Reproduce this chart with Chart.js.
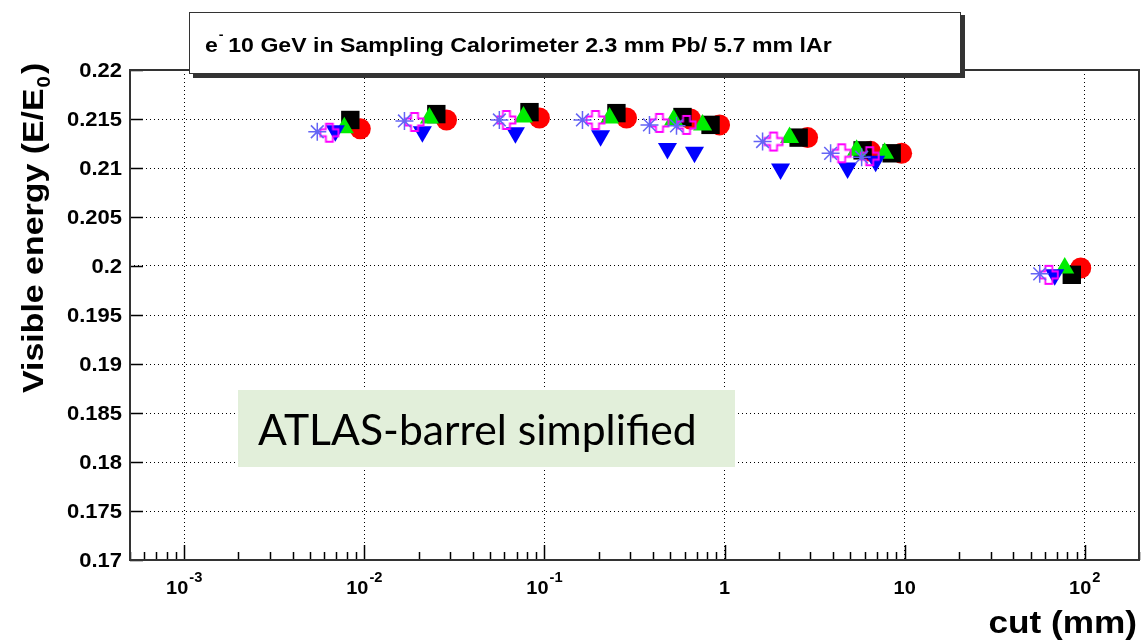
<!DOCTYPE html>
<html>
<head>
<meta charset="utf-8">
<script src="https://cdn.jsdelivr.net/npm/chart.js@4/dist/chart.umd.min.js"></script>
<style>
  html, body { margin: 0; padding: 0; background: #fff; }
  #wrap { width: 1142px; height: 644px; }
</style>
</head>
<body>
<div id="wrap"><canvas id="chartarea" width="1142" height="644"></canvas></div>
<script>
// values: cut (mm) and visible energy E/E0, one pair of arrays per marker set
var cutStar   = [0.00548, 0.0167, 0.0562, 0.1626, 0.383, 0.541, 1.626, 3.88, 5.77, 56.2];
var eStar     = [0.2137, 0.2148, 0.2149, 0.2149, 0.2144, 0.2143, 0.2127, 0.2115, 0.2111, 0.1992];
var cutCross  = [0.0064, 0.019, 0.0615, 0.192, 0.435, 0.615, 1.87, 4.47, 6.39, 63.1];
var eCross    = [0.2136, 0.2147, 0.2149, 0.2149, 0.2146, 0.2144, 0.2127, 0.2115, 0.2112, 0.1991];
var cutDown   = [0.0069, 0.021, 0.069, 0.205, 0.482, 0.681, 2.046, 4.82, 6.9, 68.1];
var eDown     = [0.2138, 0.2137, 0.2136, 0.2133, 0.2120, 0.2116, 0.2099, 0.2100, 0.2107, 0.1991];
var cutUp     = [0.00774, 0.023, 0.0765, 0.23, 0.521, 0.755, 2.296, 5.41, 7.74, 77.4];
var eUp       = [0.2141, 0.2151, 0.2152, 0.2151, 0.2149, 0.2144, 0.2131, 0.2118, 0.2115, 0.1998];
var cutSquare = [0.00836, 0.0251, 0.0826, 0.251, 0.584, 0.836, 2.578, 5.84, 8.47, 84.7];
var eSquare   = [0.2149, 0.2155, 0.2157, 0.2156, 0.2152, 0.2144, 0.2131, 0.2118, 0.2115, 0.1991];
var cutCircle = [0.0095, 0.0286, 0.0938, 0.2856, 0.647, 0.938, 2.89, 6.47, 9.62, 95.0];
var eCircle   = [0.2140, 0.2149, 0.2151, 0.2151, 0.2150, 0.2144, 0.2131, 0.2117, 0.2115, 0.1998];

// axis ticks
var xDecades  = [0.001, 0.01, 0.1, 1, 10, 100];
var xLabBase  = ['10', '10', '10', '1', '10', '10'];
var xLabExp   = ['-3', '-2', '-1', '', '', '2'];
var xMin = 0.0005, xMax = 200;
var yMin = 0.17, yMax = 0.22, yStep = 0.005;

var titleText = ' 10 GeV in Sampling Calorimeter 2.3 mm Pb/ 5.7 mm lAr';
var noteText = 'ATLAS-barrel simplified';

function pairs(xs, ys) {
    return xs.map(function (v, i) { return { x: v, y: ys[i] }; });
}

function isDecade(v) {
    var l = Math.log10(v);
    return Math.abs(l - Math.round(l)) < 1e-6;
}

function yLabel(v) {
    return String(parseFloat(v.toFixed(3)));
}

// open (hollow) cross marker like ROOT style 28
function openCross() {
    var cv = document.createElement('canvas');
    cv.width = 22; cv.height = 22;
    var g = cv.getContext('2d');
    var c = 11, a = 3.5, b = 9;
    g.strokeStyle = '#ff00ff';
    g.lineWidth = 1.8;
    g.beginPath();
    g.moveTo(c - a, c - b); g.lineTo(c + a, c - b); g.lineTo(c + a, c - a);
    g.lineTo(c + b, c - a); g.lineTo(c + b, c + a); g.lineTo(c + a, c + a);
    g.lineTo(c + a, c + b); g.lineTo(c - a, c + b); g.lineTo(c - a, c + a);
    g.lineTo(c - b, c + a); g.lineTo(c - b, c - a); g.lineTo(c - a, c - a);
    g.closePath();
    g.stroke();
    return cv;
}

var HELV = '"Liberation Sans", Arial, sans-serif';

// ROOT's helvetica comes out a bit wider than Liberation, so stretch horizontally
function wideText(c, txt, x, y, sx, align) {
    var w = c.measureText(txt).width * sx;
    var x0 = align === 'right' ? x - w : (align === 'center' ? x - w / 2 : x);
    c.save();
    c.translate(x0, y);
    c.scale(sx, 1);
    c.textAlign = 'left';
    c.fillText(txt, 0, 0);
    c.restore();
    return w;
}

var rootStyle = {
    id: 'rootStyle',
    afterDraw: function (chart) {
        var c = chart.ctx, a = chart.chartArea;
        var xs = chart.scales.x, ys = chart.scales.y;
        c.save();

        // inward tick marks
        c.strokeStyle = '#000';
        c.lineWidth = 1.5;
        c.beginPath();
        xs.ticks.forEach(function (t) {
            var px = Math.round(xs.getPixelForValue(t.value)) + 0.5;
            var len = isDecade(t.value) ? 15 : 8;
            c.moveTo(px, a.bottom); c.lineTo(px, a.bottom - len);
        });
        ys.ticks.forEach(function (t) {
            var py = Math.round(ys.getPixelForValue(t.value)) + 0.5;
            c.moveTo(a.left, py); c.lineTo(a.left + 13, py);
        });
        c.stroke();

        // frame
        c.strokeStyle = '#333';
        c.lineWidth = 2;
        c.strokeRect(a.left, a.top, a.right - a.left, a.bottom - a.top);

        c.fillStyle = '#000';
        c.textBaseline = 'alphabetic';

        // y tick labels
        c.font = 'bold 20px ' + HELV;
        ys.ticks.forEach(function (t) {
            var py = ys.getPixelForValue(t.value);
            wideText(c, yLabel(t.value), a.left - 8, py + 7, 1.1, 'right');
        });

        // x decade labels with exponents
        xDecades.forEach(function (v, i) {
            var px = xs.getPixelForValue(v);
            c.font = 'bold 19px ' + HELV;
            var wb = c.measureText(xLabBase[i]).width * 1.05;
            c.font = 'bold 14px ' + HELV;
            var we = xLabExp[i] ? c.measureText(xLabExp[i]).width * 1.05 + 1 : 0;
            var x0 = px - (wb + we) / 2;
            c.font = 'bold 19px ' + HELV;
            wideText(c, xLabBase[i], x0, 594, 1.05, 'left');
            if (xLabExp[i]) {
                c.font = 'bold 14px ' + HELV;
                wideText(c, xLabExp[i], x0 + wb + 1, 582, 1.05, 'left');
            }
        });

        // x axis title
        c.font = 'bold 32px ' + HELV;
        wideText(c, 'cut (mm)', 1137, 633, 1.1, 'right');

        // y axis title, rotated, with subscript
        c.save();
        c.translate(43, 393);
        c.rotate(-Math.PI / 2);
        c.font = 'bold 30px ' + HELV;
        var s1 = 'Visible energy (E/E';
        var w1 = wideText(c, s1, 0, 0, 1.13, 'left');
        c.font = 'bold 18px ' + HELV;
        var w2 = wideText(c, '0', w1 + 1, 7, 1.13, 'left');
        c.font = 'bold 30px ' + HELV;
        wideText(c, ')', w1 + w2 + 3, 0, 1.13, 'left');
        c.restore();

        // title pave with shadow
        c.fillStyle = '#333';
        c.fillRect(193, 15, 772, 63);
        c.fillStyle = '#fff';
        c.fillRect(189, 12, 772, 62);
        c.strokeStyle = '#333';
        c.lineWidth = 1;
        c.strokeRect(189.5, 12.5, 771, 61);
        c.fillStyle = '#000';
        c.font = 'bold 21px ' + HELV;
        var we2 = wideText(c, 'e', 205, 52, 1.1, 'left');
        c.font = 'bold 13px ' + HELV;
        wideText(c, '-', 205 + we2 + 1, 39, 1.1, 'left');
        c.font = 'bold 21px ' + HELV;
        wideText(c, titleText, 205 + we2 + 4, 52, 1.1, 'left');

        // green annotation box
        c.fillStyle = '#e2efda';
        c.fillRect(238, 390, 497, 77);
        c.fillStyle = '#000';
        c.font = '40px Lato, "Noto Sans", sans-serif';
        var wn = c.measureText(noteText).width;
        var fs = 40 * 439 / wn;
        c.font = fs.toFixed(1) + 'px Lato, "Noto Sans", sans-serif';
        c.textAlign = 'left';
        c.fillText(noteText, 258, 445);

        c.restore();
    }
};

var ctx = document.getElementById('chartarea');

var data = {
    datasets: [
        { label: 'star', data: pairs(cutStar, eStar), pointStyle: 'star', pointRadius: 9,
          borderColor: 'rgb(100,100,245)', backgroundColor: 'rgb(100,100,245)', borderWidth: 1.5 },
        { label: 'cross', data: pairs(cutCross, eCross), pointStyle: openCross(), pointRadius: 9 },
        { label: 'down', data: pairs(cutDown, eDown), pointStyle: 'triangle', rotation: 180, pointRadius: 11,
          borderColor: '#0000ff', backgroundColor: '#0000ff', borderWidth: 0 },
        { label: 'up', data: pairs(cutUp, eUp), pointStyle: 'triangle', pointRadius: 11,
          borderColor: '#00ee00', backgroundColor: '#00ee00', borderWidth: 0 },
        { label: 'square', data: pairs(cutSquare, eSquare), pointStyle: 'rect', pointRadius: 13,
          borderColor: '#000', backgroundColor: '#000', borderWidth: 0 },
        { label: 'circle', data: pairs(cutCircle, eCircle), pointStyle: 'circle', pointRadius: 10.5,
          borderColor: '#ff0000', backgroundColor: '#ff0000', borderWidth: 0 }
    ]
};

var options = {
    animation: false,
    responsive: false,
    events: [],
    // autoPadding off, otherwise the layout keeps 10px spare on the right
    layout: { autoPadding: false, padding: { top: 70, right: 3, left: 0, bottom: 0 } },
    plugins: { legend: { display: false }, tooltip: { enabled: false } },
    scales: {
        x: {
            type: 'logarithmic',
            min: xMin,
            max: xMax,
            afterBuildTicks: function (scale) {
                var t = [];
                for (var e = -4; e <= 2; e++) {
                    for (var m = 1; m <= 9; m++) {
                        var v = m * Math.pow(10, e);
                        if (v >= xMin * 0.999 && v <= xMax * 1.001) t.push({ value: v });
                    }
                }
                scale.ticks = t;
            },
            afterFit: function (scale) { scale.height = 84; },
            ticks: { display: false },
            border: { display: false, dash: [1, 3] },
            grid: {
                drawTicks: false,
                lineWidth: 1,
                color: function (c) {
                    if (!c.tick || !isDecade(c.tick.value)) return 'rgba(0,0,0,0)';
                    return '#000';
                }
            }
        },
        y: {
            min: yMin,
            max: yMax,
            afterBuildTicks: function (scale) {
                var t = [];
                for (var v = yMin; v <= yMax + 1e-9; v += yStep) t.push({ value: +v.toFixed(3) });
                scale.ticks = t;
            },
            afterFit: function (scale) { scale.width = 130; },
            ticks: { display: false },
            border: { display: false, dash: [1, 3] },
            grid: {
                drawTicks: false,
                lineWidth: 1,
                color: function (c) {
                    if (!c.tick) return 'rgba(0,0,0,0)';
                    var v = c.tick.value;
                    if (Math.abs(v - yMin) < 1e-6 || Math.abs(v - yMax) < 1e-6) return 'rgba(0,0,0,0)';
                    return '#000';
                }
            }
        }
    }
};

new Chart(ctx, {
    type: 'scatter',
    data: data,
    options: options,
    plugins: [rootStyle]
});
</script>
</body>
</html>
